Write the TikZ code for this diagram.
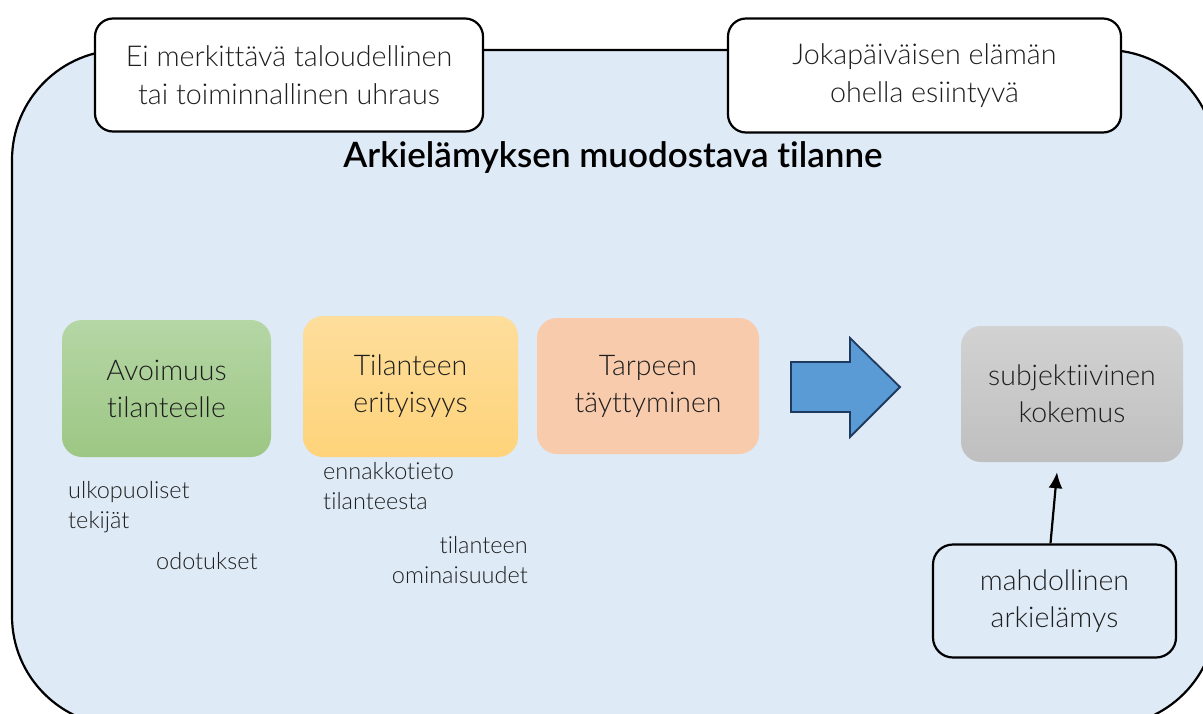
\documentclass[tikz,border=0pt]{standalone}
\usepackage{fontspec}
\IfFontExistsTF{Lato Light}{\setmainfont{Lato Light}[BoldFont=Lato Bold, Ligatures=NoCommon]}{\setmainfont{Lato}[Ligatures=NoCommon]}
\IfFontExistsTF{Lato Semibold}{\newfontfamily\titlefont{Lato Semibold}[Ligatures=NoCommon]}{\newfontfamily\titlefont{Lato Bold}[Ligatures=NoCommon]}
\usetikzlibrary{calc,arrows.meta}
\definecolor{bgblue}{HTML}{DEEAF6}
\definecolor{txt}{HTML}{1E1E1E}
\definecolor{greenT}{HTML}{B5D6A5}
\definecolor{greenB}{HTML}{9DC784}
\definecolor{yelT}{HTML}{FEDE9C}
\definecolor{yelB}{HTML}{FED37A}
\definecolor{peach}{HTML}{F8CBAD}
\definecolor{greyT}{HTML}{D2D2D2}
\definecolor{greyB}{HTML}{BFBFBF}
\definecolor{arrblue}{HTML}{5B9BD5}
\definecolor{arrborder}{HTML}{1F3A5F}
\tikzset{
  outline/.style={draw=black, line width=2.2pt, rounded corners=18pt, align=center, text=txt, inner sep=0pt},
  colbox/.style={rounded corners=20pt, align=center, text=txt, inner sep=0pt, font=\fontsize{28.5}{37}\selectfont},
  lab/.style={text=txt, inner sep=0pt, font=\fontsize{23.5}{30}\selectfont},
}
\begin{document}
\begin{tikzpicture}[x=1pt,y=-1pt]
\clip (0,0) rectangle (1203,713);
\fill[white] (0,0) rectangle (1203,713);
\draw[fill=bgblue, line width=2.2pt, rounded corners=110pt] (12,50) rectangle (1216,726);

\node[outline, fill=white, minimum width=388pt, minimum height=113pt, font=\fontsize{28.7}{38}\selectfont] (top1) at (289,75) {Ei merkittävä taloudellinen\\tai toiminnallinen uhraus};
\node[outline, fill=white, minimum width=393pt, minimum height=114pt, font=\fontsize{28.7}{38}\selectfont] (top2) at (924.5,75.5) {Jokapäiväisen elämän\\ohella esiintyvä};

\node[font=\titlefont\fontsize{35}{40}\selectfont, text=black, inner sep=0pt] (title) at (613,158) {Arkielämyksen muodostava tilanne};

\node[colbox, top color=greenT, bottom color=greenB, minimum width=209pt, minimum height=137pt] (avo) at (166.5,388.5) {Avoimuus\\tilanteelle};
\node[colbox, top color=yelT, bottom color=yelB, minimum width=215pt, minimum height=141pt] (eri) at (410.5,386.5) {Tilanteen\\erityisyys};
\node[colbox, fill=peach, minimum width=222pt, minimum height=136pt] (tar) at (648,386) {Tarpeen\\täyttyminen};
\node[colbox, top color=greyT, bottom color=greyB, minimum width=222pt, minimum height=136pt] (sub) at (1072,394) {subjektiivinen\\kokemus};

\draw[fill=arrblue, draw=arrborder, line width=1.8pt, line join=miter]
  (791,362) -- (850,362) -- (850,338) -- (900,387) -- (850,437) -- (850,412) -- (791,412) -- cycle;

\node[outline, rounded corners=20pt, fill=bgblue, minimum width=243pt, minimum height=113pt, font=\fontsize{28.5}{37}\selectfont] (mah) at (1054.5,601) {mahdollinen\\arkielämys};
\draw[line width=2.2pt, -{Latex[length=16pt,width=14pt]}] ($(mah.north)+(-4,0)$) -- ($(sub.south)+(-15,10)$);

\node[lab, anchor=north west, align=left] (ulk) at (68,481.5) {ulkopuoliset\\tekijät};
\node[lab, anchor=north west] (odo) at (156,552.5) {odotukset};
\node[lab, anchor=north west, align=left] (enn) at (323,462.5) {ennakkotieto\\tilanteesta};
\node[lab, anchor=north east, align=right] (omi) at (528,536.5) {tilanteen\\ominaisuudet};
\end{tikzpicture}
\end{document}
